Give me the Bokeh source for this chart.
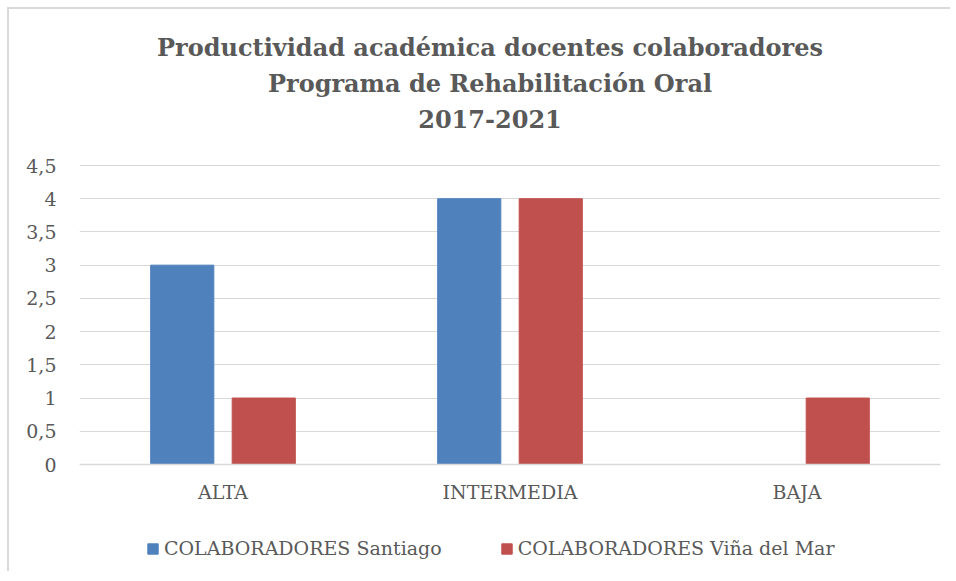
from bokeh.plotting import figure
from bokeh.models import ColumnDataSource, FactorRange, Range1d, FixedTicker, Legend, LegendItem, Label
from bokeh.transform import dodge
from bokeh.embed import file_html
from bokeh.resources import INLINE

categories = ["ALTA", "INTERMEDIA", "BAJA"]
santiago = [3, 4, 0]
vina = [1, 4, 1]
series_names = ["COLABORADORES Santiago", "COLABORADORES Viña del Mar"]
title_lines = ["Productividad académica docentes colaboradores",
               "Programa de Rehabilitación Oral",
               "2017-2021"]
y_ticks = [0, 0.5, 1, 1.5, 2, 2.5, 3, 3.5, 4, 4.5]
y_tick_labels = ["0", "0,5", "1", "1,5", "2", "2,5", "3", "3,5", "4", "4,5"]

FONT = "DejaVu Serif"
TXT = "#595959"
GRID = "#D9D9D9"
BLUE = "#4F81BD"
RED = "#C0504D"

# layout (page pixels)
FIG_X0, FIG_Y0 = 9, 9
W, H = 956 - FIG_X0 - 4, 581 - FIG_Y0 - 8
FIG_BOTTOM = FIG_Y0 + H
GRID_TOP_PX, ZERO_PX = 165, 464
AXIS_MAX = 4.5
ppu = (ZERO_PX - GRID_TOP_PX) / AXIS_MAX
y_hi = AXIS_MAX + (GRID_TOP_PX - FIG_Y0) / ppu
y_lo = -(FIG_BOTTOM - ZERO_PX) / ppu

def page_y(py):
    return (ZERO_PX - py) / ppu

src = ColumnDataSource(dict(cat=categories, s=santiago, v=vina))

p = figure(x_range=FactorRange(*categories, range_padding=0),
           y_range=Range1d(y_lo, y_hi),
           width=W, height=H, output_backend="svg", toolbar_location=None,
           min_border_left=79 - FIG_X0, min_border_right=FIG_X0 + W - 940,
           min_border_top=0, min_border_bottom=0)
p.styles = {"margin-left": f"{FIG_X0}px", "margin-top": f"{FIG_Y0}px",
            "box-shadow": "-2px -2px 0 0 #D9D9D9", "background": "white"}
p.outline_line_color = None
p.border_fill_color = "white"
p.background_fill_color = "white"

for line, py in zip(title_lines, [47, 83, 118]):
    p.add_layout(Label(x=1.5, y=page_y(py), text=line, text_align="center",
                       text_baseline="middle", x_offset=-20, text_font=FONT,
                       text_font_size="24px", text_font_style="bold", text_color=TXT))

r1 = p.vbar(x=dodge("cat", -0.142, range=p.x_range), top="s", width=0.22, source=src,
            fill_color=BLUE, line_color=BLUE)
r2 = p.vbar(x=dodge("cat", 0.142, range=p.x_range), top="v", width=0.22, source=src,
            fill_color=RED, line_color=RED)

p.xgrid.grid_line_color = None
p.ygrid.grid_line_color = GRID
p.ygrid.grid_line_width = 1
p.yaxis.ticker = FixedTicker(ticks=y_ticks)
p.yaxis.major_label_overrides = {t: l for t, l in zip(y_ticks, y_tick_labels)}
p.yaxis.axis_line_color = None
p.yaxis.major_tick_line_color = None
p.yaxis.minor_tick_line_color = None
p.yaxis.major_tick_out = 0
p.yaxis.major_label_text_font = FONT
p.yaxis.major_label_text_font_size = "19px"
p.yaxis.major_label_text_color = TXT
p.yaxis.major_label_standoff = 23

p.xaxis.fixed_location = 0
p.xaxis.axis_line_color = GRID
p.xaxis.axis_line_width = 1.5
p.xaxis.major_tick_line_color = None
p.xaxis.minor_tick_line_color = None
p.xaxis.major_tick_out = 0
p.xaxis.major_label_text_font = FONT
p.xaxis.major_label_text_font_size = "19px"
p.xaxis.major_label_text_color = TXT
p.xaxis.major_label_standoff = 16

legend = Legend(items=[LegendItem(label=series_names[0], renderers=[r1]),
                       LegendItem(label=series_names[1], renderers=[r2])],
                orientation="horizontal", location=(146 - 79, 22 - (581 - FIG_BOTTOM)),
                label_text_font=FONT, label_text_font_size="19px", label_text_color=TXT,
                glyph_width=13, glyph_height=13, label_standoff=5, spacing=58,
                border_line_color=None, background_fill_alpha=0, margin=0, padding=0)
p.add_layout(legend, "center")

open("out.html", "w").write(file_html(p, INLINE))
